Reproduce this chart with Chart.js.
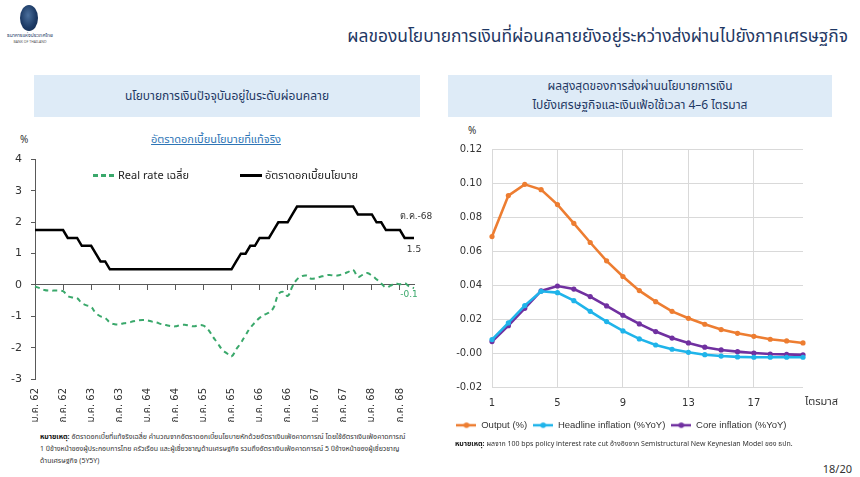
<!DOCTYPE html>
<html lang="th">
<head>
<meta charset="utf-8">
<title>ผลของนโยบายการเงินที่ผ่อนคลายยังอยู่ระหว่างส่งผ่านไปยังภาคเศรษฐกิจ</title>
<script src="https://cdn.jsdelivr.net/npm/chart.js@4.4.1/dist/chart.umd.min.js"></script>
<style>
  html, body { margin: 0; padding: 0; background: #fff; }
  body {
    width: 860px; height: 477px; position: relative; overflow: hidden;
    font-family: "Noto Sans Thai", "Noto Sans", "DejaVu Sans", sans-serif; color: #222;
  }
  .abs { position: absolute; }
  .logo {
    left: 20px; top: 5px; width: 18px; height: 26px; border-radius: 50%;
    background: radial-gradient(ellipse at 45% 40%, #4a6f9c 0%, #1d3b66 55%, #0f2448 100%);
  }
  .logo-th { left: 3px; top: 32px; width: 54px; text-align: center; font-size: 5px; color: #1d3b66; }
  .logo-en { left: 3px; top: 39px; width: 54px; text-align: center; font-size: 3.5px; color: #555; }
  .title {
    right: 12px; top: 24px; font-size: 17.4px; color: #1f3864; white-space: nowrap;
  }
  .box {
    top: 75px; height: 42px; background: #deebf7; color: #1f3864;
    font-size: 12px; display: flex; align-items: center; justify-content: center;
    text-align: center; line-height: 19px;
  }
  .sub { left: 0; width: 432px; top: 131px; text-align: center; font-size: 11px; color: #2e75b6; text-decoration: underline; }
  .pct { font-size: 10px; color: #333; }
  .legend { top: 167px; font-size: 11px; color: #222; white-space: nowrap; display: flex; align-items: center; }
  .swatch { display: inline-block; width: 22px; height: 2.5px; margin-right: 3px; }
  .note { font-size: 7px; line-height: 12px; color: #333; white-space: nowrap; }
  .note b { color: #111; }
  .page { right: 8px; top: 461px; font-size: 11px; color: #333; }
</style>
</head>
<body>
  <div class="abs logo"></div>
  <div class="abs logo-th">ธนาคารแห่งประเทศไทย</div>
  <div class="abs logo-en">BANK OF THAILAND</div>
  <div class="abs title">ผลของนโยบายการเงินที่ผ่อนคลายยังอยู่ระหว่างส่งผ่านไปยังภาคเศรษฐกิจ</div>

  <div class="abs box" style="left:34px; width:386px;">นโยบายการเงินปัจจุบันอยู่ในระดับผ่อนคลาย</div>
  <div class="abs box" style="left:448px; width:384px;">ผลสูงสุดของการส่งผ่านนโยบายการเงิน<br>ไปยังเศรษฐกิจและเงินเฟ้อใช้เวลา 4–6 ไตรมาส</div>

  <div class="abs sub">อัตราดอกเบี้ยนโยบายที่แท้จริง</div>
  <div class="abs pct" style="left:20px; top:132px;">%</div>
  <div class="abs pct" style="left:468px; top:123px;">%</div>

  <div class="abs" style="left:5px; top:144px; width:427px; height:281px;"><canvas id="leftChart"></canvas></div>
  <div class="abs legend" style="left:93px;"><span class="swatch" id="swReal"></span><span id="lgReal"></span></div>
  <div class="abs legend" style="left:240px;"><span class="swatch" id="swPolicy"></span><span id="lgPolicy"></span></div>

  <div class="abs" style="left:440px; top:133px; width:410px; height:307px;"><canvas id="rightChart"></canvas></div>

  <div class="abs note" style="left:40px; top:431px;">
    <b>หมายเหตุ:</b> อัตราดอกเบี้ยที่แท้จริงเฉลี่ย คำนวณจากอัตราดอกเบี้ยนโยบายหักด้วยอัตราเงินเฟ้อคาดการณ์ โดยใช้อัตราเงินเฟ้อคาดการณ์<br>
    1 ปีข้างหน้าของผู้ประกอบการไทย ครัวเรือน และผู้เชี่ยวชาญด้านเศรษฐกิจ รวมถึงอัตราเงินเฟ้อคาดการณ์ 5 ปีข้างหน้าของผู้เชี่ยวชาญ<br>
    ด้านเศรษฐกิจ (5Y5Y)
  </div>
  <div class="abs note" style="left:455px; top:438px;">
    <b>หมายเหตุ:</b> ผลจาก 100 bps policy interest rate cut อ้างอิงจาก Semistructural New Keynesian Model ของ ธปท.
  </div>
  <div class="abs page">18/20</div>

<script>
// ---- left chart: policy rate vs real rate (monthly, ม.ค. 62 – ต.ค. 68)
const thaiMonths = ['ม.ค.', 'ก.พ.', 'มี.ค.', 'เม.ย.', 'พ.ค.', 'มิ.ย.', 'ก.ค.', 'ส.ค.', 'ก.ย.', 'ต.ค.', 'พ.ย.', 'ธ.ค.'];
const thaiYears = [62, 63, 64, 65, 66, 67, 68];
const monthLabels = [];
thaiYears.forEach(y => thaiMonths.forEach(m => monthLabels.push(m + ' ' + y)));
monthLabels.length = 82;
const lastMonthLabel = 'ต.ค.-68';

const policyRate = [
  1.75, 1.75, 1.75, 1.75, 1.75, 1.75, 1.75, 1.5, 1.5, 1.5, 1.25, 1.25,
  1.25, 1.0, 0.75, 0.75, 0.5, 0.5, 0.5, 0.5, 0.5, 0.5, 0.5, 0.5,
  0.5, 0.5, 0.5, 0.5, 0.5, 0.5, 0.5, 0.5, 0.5, 0.5, 0.5, 0.5,
  0.5, 0.5, 0.5, 0.5, 0.5, 0.5, 0.5, 0.75, 1.0, 1.0, 1.25, 1.25,
  1.5, 1.5, 1.5, 1.75, 2.0, 2.0, 2.0, 2.25, 2.5, 2.5, 2.5, 2.5,
  2.5, 2.5, 2.5, 2.5, 2.5, 2.5, 2.5, 2.5, 2.5, 2.25, 2.25, 2.25,
  2.25, 2.0, 2.0, 1.75, 1.75, 1.75, 1.75, 1.5, 1.5, 1.5
];
const realRate = [
  -0.05, -0.1, -0.16, -0.18, -0.18, -0.18, -0.2, -0.35, -0.4, -0.42, -0.58, -0.65,
  -0.7, -0.9, -1.0, -1.05, -1.2, -1.25, -1.26, -1.22, -1.2, -1.16, -1.13, -1.12,
  -1.13, -1.17, -1.2, -1.25, -1.28, -1.31, -1.32, -1.28, -1.27, -1.3, -1.32, -1.28,
  -1.3, -1.42, -1.65, -1.85, -2.06, -2.18, -2.28, -2.05, -1.85, -1.6, -1.37, -1.2,
  -1.05, -0.95, -0.88, -0.72, -0.3, -0.22, -0.35, -0.05, 0.18, 0.28, 0.3, 0.2,
  0.22, 0.26, 0.3, 0.32, 0.29, 0.31, 0.36, 0.42, 0.48, 0.26, 0.32, 0.38,
  0.3, 0.18, 0.05, -0.08, -0.02, 0.05, 0.02, 0.06, -0.05, -0.1
];

// ---- right chart: impulse response to a 100 bps cut (quarters 1–20)
const quarters = ['1', '2', '3', '4', '5', '6', '7', '8', '9', '10', '11', '12', '13', '14', '15', '16', '17', '18', '19', '20'];
const outputResp = [0.0685, 0.0926, 0.0992, 0.0961, 0.0873, 0.0763, 0.065, 0.0542, 0.045, 0.0367,
  0.0302, 0.0245, 0.0204, 0.0169, 0.0138, 0.0116, 0.0098, 0.0081, 0.0071, 0.0059];
const headlineResp = [0.0079, 0.0177, 0.0279, 0.0363, 0.0355, 0.0308, 0.0245, 0.0185, 0.013, 0.0083,
  0.0047, 0.0022, 0.0004, -0.001, -0.0018, -0.0023, -0.0025, -0.0025, -0.0025, -0.0025];
const coreResp = [0.0067, 0.0161, 0.0263, 0.0365, 0.0394, 0.0376, 0.0332, 0.0277, 0.0222, 0.0171,
  0.0126, 0.0088, 0.0059, 0.0034, 0.0018, 0.0008, 0.0, -0.0006, -0.0008, -0.0011];

const GREEN = '#3aa86b';
const ORANGE = '#ed7d31';
const BLUE = '#1fb4ea';
const PURPLE = '#7030a0';
const AXIS = '#595959';

Chart.defaults.font.family = '"DejaVu Sans", "Noto Sans Thai", sans-serif';
Chart.defaults.color = '#333';
Chart.defaults.animation = false;

const endLabels = {
  id: 'endLabels',
  afterDatasetsDraw(chart) {
    const ctx = chart.ctx;
    const real = chart.getDatasetMeta(0).data.at(-1);
    const pol = chart.getDatasetMeta(1).data.at(-1);
    ctx.save();
    ctx.font = '9px "DejaVu Sans", sans-serif';
    ctx.textAlign = 'center';
    ctx.textBaseline = 'middle';
    ctx.fillStyle = '#333';
    ctx.fillText(lastMonthLabel, pol.x + 2, pol.y - 21);
    ctx.fillText(policyRate.at(-1).toFixed(1), pol.x, pol.y + 12);
    ctx.fillStyle = GREEN;
    ctx.fillText(realRate.at(-1).toFixed(1), real.x - 5, real.y + 7);
    ctx.restore();
  }
};

const leftChart = new Chart(document.getElementById('leftChart'), {
  type: 'line',
  data: {
    labels: monthLabels,
    datasets: [{
      label: 'Real rate เฉลี่ย',
      data: realRate,
      borderColor: GREEN,
      backgroundColor: GREEN,
      borderWidth: 2,
      borderDash: [5, 4],
      pointRadius: 0,
      tension: 0.4
    }, {
      label: 'อัตราดอกเบี้ยนโยบาย',
      data: policyRate,
      borderColor: '#000',
      backgroundColor: '#000',
      borderWidth: 2.5,
      pointRadius: 0,
      tension: 0
    }]
  },
  options: {
    responsive: true,
    maintainAspectRatio: false,
    layout: { padding: { top: 0, right: 18 } },
    plugins: {
      legend: { display: false },
      tooltip: { enabled: false }
    },
    scales: {
      x: {
        grid: { display: false, drawTicks: false },
        border: { display: false },
        ticks: {
          autoSkip: false,
          minRotation: 90,
          maxRotation: 90,
          padding: 9,
          font: { size: 10 },
          callback: (v, i) => (i % 6 === 0 ? monthLabels[i] : null)
        },
        afterFit: s => { s.height = 46; }
      },
      x2: {
        type: 'category',
        position: { y: 0 },
        grid: {
          drawOnChartArea: false,
          tickLength: 5,
          tickColor: c => (c.index % 6 === 0 ? AXIS : 'transparent')
        },
        border: { display: true, color: AXIS, width: 1 },
        ticks: { display: false }
      },
      y: {
        min: -3,
        max: 4,
        ticks: { stepSize: 1, padding: 9, font: { size: 11 } },
        grid: { drawOnChartArea: false, tickLength: 4, tickColor: AXIS },
        border: { display: true, color: AXIS, width: 1 },
        afterFit: s => { s.width = 30; }
      }
    }
  },
  plugins: [endLabels]
});

// html legend for the left chart, taken from its datasets
const [dsReal, dsPolicy] = leftChart.data.datasets;
document.getElementById('lgReal').textContent = dsReal.label;
document.getElementById('lgPolicy').textContent = dsPolicy.label;
document.getElementById('swReal').style.background =
  `repeating-linear-gradient(90deg, ${dsReal.borderColor} 0 5px, transparent 5px 8px)`;
document.getElementById('swPolicy').style.background = dsPolicy.borderColor;

// legend icon: short line with a marker, as in the original
function legendIcon(color) {
  const c = document.createElement('canvas');
  c.width = 20; c.height = 8;
  const g = c.getContext('2d');
  g.strokeStyle = color; g.lineWidth = 2.5;
  g.beginPath(); g.moveTo(0, 4); g.lineTo(20, 4); g.stroke();
  g.fillStyle = color;
  g.beginPath(); g.arc(10, 4, 2.8, 0, Math.PI * 2); g.fill();
  return c;
}

const quarterTitle = {
  id: 'quarterTitle',
  afterDraw(chart) {
    const xs = chart.scales.x;
    const ctx = chart.ctx;
    ctx.save();
    ctx.font = '11px "DejaVu Sans", "Noto Sans Thai", sans-serif';
    ctx.fillStyle = '#333';
    ctx.textAlign = 'left';
    ctx.textBaseline = 'middle';
    ctx.fillText('ไตรมาส', chart.chartArea.right + 2, xs.top + 15);
    ctx.restore();
  }
};

const lineStyle = color => ({
  borderColor: color,
  backgroundColor: color,
  borderWidth: 2.6,
  pointRadius: 2.6,
  pointBorderWidth: 0,
  pointBackgroundColor: color,
  tension: 0
});

new Chart(document.getElementById('rightChart'), {
  type: 'line',
  data: {
    labels: quarters,
    datasets: [
      { label: 'Output (%)', data: outputResp, ...lineStyle(ORANGE) },
      { label: 'Headline inflation (%YoY)', data: headlineResp, ...lineStyle(BLUE) },
      { label: 'Core inflation (%YoY)', data: coreResp, ...lineStyle(PURPLE) }
    ]
  },
  options: {
    responsive: true,
    maintainAspectRatio: false,
    layout: { padding: { top: 2, right: 47 } },
    plugins: {
      legend: {
        position: 'bottom',
        labels: {
          usePointStyle: true,
          pointStyleWidth: 20,
          boxHeight: 8,
          padding: 6,
          font: { size: 9.5, family: '"Liberation Sans", Arial, sans-serif' },
          color: '#333',
          generateLabels(chart) {
            const items = Chart.defaults.plugins.legend.labels.generateLabels(chart);
            items.forEach(it => { it.pointStyle = legendIcon(chart.data.datasets[it.datasetIndex].borderColor); });
            return items;
          }
        }
      },
      tooltip: { enabled: false }
    },
    scales: {
      x: {
        offset: false,
        grid: {
          drawTicks: false,
          color: c => (c.index % 4 === 0 ? '#d9d9d9' : 'transparent')
        },
        border: { display: false },
        ticks: {
          autoSkip: false,
          maxRotation: 0,
          padding: 10,
          font: { size: 10 },
          callback: (v, i) => (i % 4 === 0 ? quarters[i] : '')
        },
        afterFit: s => { s.height = 27.5; }
      },
      y: {
        min: -0.02,
        max: 0.12,
        ticks: { stepSize: 0.02, padding: 10, font: { size: 10 }, callback: v => v.toFixed(2) },
        grid: { drawTicks: false, color: '#d9d9d9' },
        border: { display: false },
        afterFit: s => { s.width = 52; }
      }
    }
  },
  plugins: [quarterTitle]
});
</script>
</body>
</html>
